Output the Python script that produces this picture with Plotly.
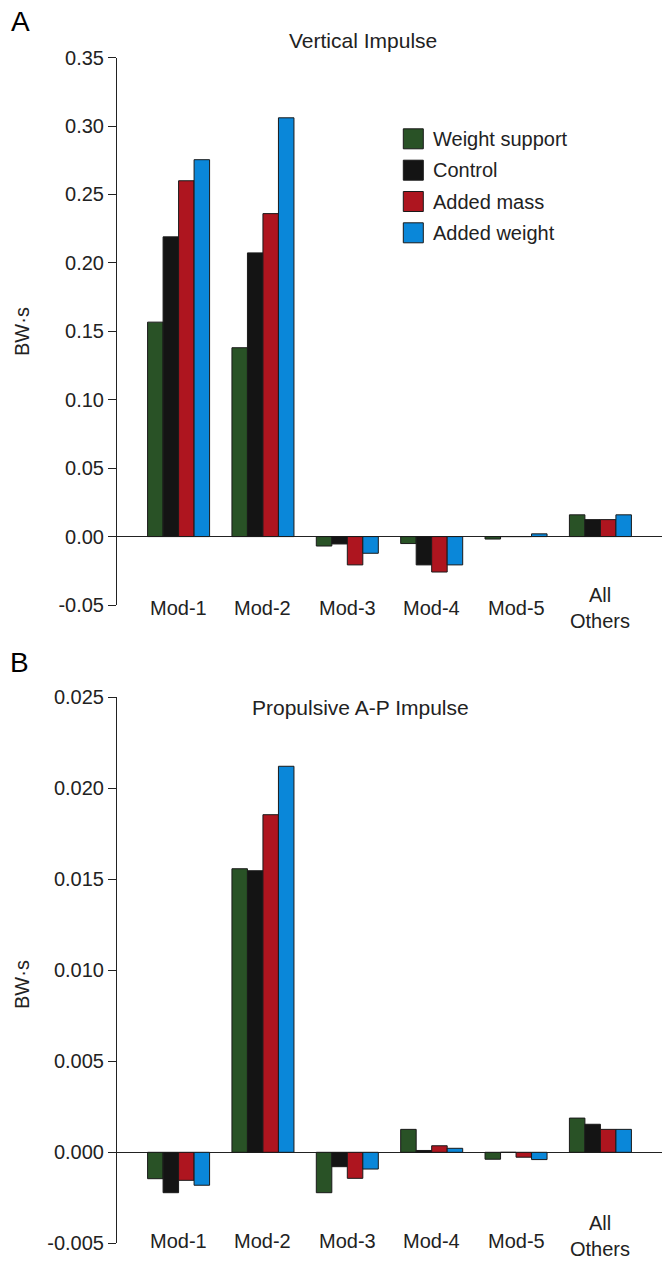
import plotly.graph_objects as go

categories = ["Mod-1", "Mod-2", "Mod-3", "Mod-4", "Mod-5", "All Others"]
series_names = ["Weight support", "Control", "Added mass", "Added weight"]
colors = ["#295226", "#141414", "#ae151f", "#0a87d9"]

# Panel A: Vertical Impulse (BW·s)
vertical = {
    "Weight support": [0.1567, 0.138, -0.0069, -0.0051, -0.0018, 0.0159],
    "Control":        [0.219, 0.2073, -0.0054, -0.0207, 0.0, 0.0124],
    "Added mass":     [0.260, 0.236, -0.0207, -0.0259, 0.0, 0.0124],
    "Added weight":   [0.2754, 0.306, -0.0122, -0.0207, 0.0020, 0.0159],
}
# Panel B: Propulsive A-P Impulse (BW·s)
propulsive = {
    "Weight support": [-0.00145, 0.01558, -0.00222, 0.00126, -0.00038, 0.00188],
    "Control":        [-0.00222, 0.01547, -0.00079, 0.00010, 0.0, 0.00154],
    "Added mass":     [-0.00154, 0.01855, -0.00143, 0.00036, -0.00027, 0.00126],
    "Added weight":   [-0.00181, 0.02121, -0.00092, 0.00022, -0.00040, 0.00126],
}

ticks_a = [-0.05, 0.0, 0.05, 0.10, 0.15, 0.20, 0.25, 0.30, 0.35]
ticktext_a = ["-0.05", "0.00", "0.05", "0.10", "0.15", "0.20", "0.25", "0.30", "0.35"]
ticks_b = [-0.005, 0.0, 0.005, 0.010, 0.015, 0.020, 0.025]
ticktext_b = ["-0.005", "0.000", "0.005", "0.010", "0.015", "0.020", "0.025"]

W, H = 662, 1263
FONT = "Liberation Sans, Arial, Helvetica, sans-serif"
TXT = "#222222"


def px(x):
    return x / W


def py(y):
    return 1 - y / H


fig = go.Figure()
for name, col in zip(series_names, colors):
    fig.add_trace(go.Bar(x=categories, y=vertical[name], name=name,
                         marker=dict(color=col, line=dict(color="#1a1a1a", width=1)),
                         xaxis="x", yaxis="y", showlegend=False))
for name, col in zip(series_names, colors):
    fig.add_trace(go.Bar(x=categories, y=propulsive[name], name=name,
                         marker=dict(color=col, line=dict(color="#1a1a1a", width=1)),
                         xaxis="x2", yaxis="y2", showlegend=False))

xcommon = dict(range=[-0.73, 5.73], showline=False, showticklabels=False,
               showgrid=False, zeroline=False, ticks="", type="category",
               categoryorder="array", categoryarray=categories, automargin=False)
ycommon = dict(showline=True, linecolor=TXT, linewidth=1, ticks="outside",
               ticklen=8, tickwidth=1, tickcolor=TXT, showgrid=False,
               zeroline=True, zerolinecolor=TXT, zerolinewidth=1, automargin=False,
               tickfont=dict(family=FONT, size=20, color=TXT))

fig.update_layout(
    template="none",
    width=W, height=H, margin=dict(l=0, r=0, t=0, b=0, pad=0), autosize=False,
    paper_bgcolor="white", plot_bgcolor="white",
    barmode="group", bargap=0.265, bargroupgap=0,
    font=dict(family=FONT, color=TXT),
    xaxis=dict(domain=[px(117), 1], anchor="y", **xcommon),
    yaxis=dict(domain=[py(605), py(57.6)], range=[-0.05, 0.35], anchor="x",
               tickvals=ticks_a, ticktext=ticktext_a, **ycommon),
    xaxis2=dict(domain=[px(117), 1], anchor="y2", **xcommon),
    yaxis2=dict(domain=[py(1243.3), py(697.3)], range=[-0.005, 0.025], anchor="x2",
                tickvals=ticks_b, ticktext=ticktext_b, **ycommon),
)

ann = []
# category labels
for c in categories:
    multi = " " in c
    ann.append(dict(x=c, y=-0.05, xref="x", yref="y", text=c.replace(" ", "<br>"),
                    showarrow=False, xanchor="center", yanchor="middle", yshift=-3,
                    font=dict(family=FONT, size=20, color=TXT)))
    ann.append(dict(x=c, y=-0.005, xref="x2", yref="y2", text=c.replace(" ", "<br>"),
                    showarrow=False, xanchor="center", yanchor="middle",
                    yshift=7 if multi else 2,
                    font=dict(family=FONT, size=20, color=TXT)))
# panel titles
ann.append(dict(x=px(363), y=py(41), xref="paper", yref="paper", text="Vertical Impulse",
                showarrow=False, xanchor="center", yanchor="middle",
                font=dict(family=FONT, size=21, color=TXT)))
ann.append(dict(x=px(360), y=py(707), xref="paper", yref="paper", text="Propulsive A-P Impulse",
                showarrow=False, xanchor="center", yanchor="middle",
                font=dict(family=FONT, size=21, color=TXT)))
# y-axis titles
for yc in (332, 985):
    ann.append(dict(x=px(22), y=py(yc), xref="paper", yref="paper", text="BW·s",
                    showarrow=False, textangle=-90, xanchor="center", yanchor="middle",
                    font=dict(family=FONT, size=20, color=TXT)))
# panel letters
ann.append(dict(x=px(20), y=py(21), xref="paper", yref="paper", text="A", showarrow=False,
                xanchor="center", yanchor="middle", font=dict(family=FONT, size=28, color="black")))
ann.append(dict(x=px(19), y=py(662), xref="paper", yref="paper", text="B", showarrow=False,
                xanchor="center", yanchor="middle", font=dict(family=FONT, size=28, color="black")))

# manual legend
shapes = []
rows = [138.8, 170.2, 201.5, 232.8]
for name, col, yc in zip(series_names, colors, rows):
    shapes.append(dict(type="rect", xref="paper", yref="paper",
                       x0=px(403.3), x1=px(423.3), y0=py(yc + 10), y1=py(yc - 10),
                       fillcolor=col, line=dict(color="#1a1a1a", width=1)))
    ann.append(dict(x=px(431), y=py(yc), xref="paper", yref="paper", text=name,
                    showarrow=False, xanchor="left", yanchor="middle",
                    font=dict(family=FONT, size=20, color=TXT)))

fig.update_layout(annotations=ann, shapes=shapes)
fig.write_html("out.html", config={"displayModeBar": False},
               post_script="document.body.style.margin='0';document.body.style.overflow='hidden';")
